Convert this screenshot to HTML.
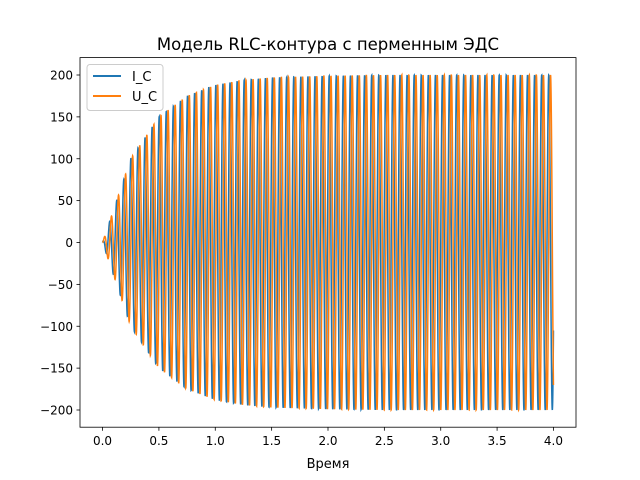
<!DOCTYPE html>
<html><head><meta charset="utf-8"><style>
body{margin:0;background:#fff;}
svg{display:block;font-family:"DejaVu Sans","Liberation Sans",sans-serif;}
</style></head><body>
<svg id="chart" width="640" height="480">
<rect width="640" height="480" fill="#fff"/>
<text x="328" y="50" text-anchor="middle" font-size="16.5">Модель RLC-контура с перменным ЭДС</text>
<g id="plot"></g>
<rect x="80" y="57.6" width="496" height="369.6" fill="none" stroke="#000" stroke-width="0.8"/>
<g id="ticks"></g>
<text x="328" y="468" text-anchor="middle" font-size="13">Время</text>
<g>
<rect x="87" y="64.5" width="76" height="46" rx="3" fill="#fff" fill-opacity="0.8" stroke="#ccc" stroke-width="1"/>
<line x1="93" y1="76" x2="121" y2="76" stroke="#1f77b4" stroke-width="2"/>
<text x="132" y="81" font-size="13">I_C</text>
<line x1="93" y1="96" x2="121" y2="96" stroke="#ff7f0e" stroke-width="2"/>
<text x="132" y="101" font-size="13">U_C</text>
</g>
</svg>
<script>
const xTicks=[0.0,0.5,1.0,1.5,2.0,2.5,3.0,3.5,4.0];
const yTicks=[-200,-150,-100,-50,0,50,100,150,200];
const envelopeTimes=[0,0.25,0.5,0.75,1.0,1.25,1.5,2.0,2.5,3.0,4.0];
const envelopeValues=[0,100,150,175,188,194,197,199,200,200,200];
const omega=[100];
const seriesNames=["I_C","U_C"];
const seriesPhase=[1.5708,0];
const seriesColors=["#1f77b4","#ff7f0e"];
const tEnd=[4.0];

const X=t=>80+(t+0.2)/4.4*496;
const Y=v=>242.5-v*0.8375;
const NS="http://www.w3.org/2000/svg";
function env(t){for(let i=1;i<envelopeTimes.length;i++){if(t<=envelopeTimes[i]){const a=envelopeTimes[i-1],b=envelopeTimes[i];return envelopeValues[i-1]+(envelopeValues[i]-envelopeValues[i-1])*(t-a)/(b-a);}}return envelopeValues[envelopeValues.length-1];}
const plot=document.getElementById('plot');
seriesNames.forEach((n,k)=>{
  let d="";const N=4000;
  for(let i=0;i<=N;i++){const t=tEnd[0]*i/N;const v=env(t)*Math.sin(omega[0]*t+seriesPhase[k]);d+=(i?"L":"M")+X(t).toFixed(2)+","+Y(v).toFixed(2);}
  const p=document.createElementNS(NS,'path');
  p.setAttribute('d',d);p.setAttribute('fill','none');p.setAttribute('stroke',seriesColors[k]);p.setAttribute('stroke-width','1.5');
  
  
  plot.appendChild(p);
});
const tg=document.getElementById('ticks');
xTicks.forEach(t=>{
  const l=document.createElementNS(NS,'line');const x=X(t);
  l.setAttribute('x1',x);l.setAttribute('x2',x);l.setAttribute('y1',427.2);l.setAttribute('y2',430.7);l.setAttribute('stroke','#000');l.setAttribute('stroke-width','0.8');
  
  
  tg.appendChild(l);
  const s=document.createElementNS(NS,'text');s.setAttribute('x',x);s.setAttribute('y',445);s.setAttribute('text-anchor','middle');s.setAttribute('font-size','12');s.textContent=t.toFixed(1);
  
  
  tg.appendChild(s);
});
yTicks.forEach(v=>{
  const l=document.createElementNS(NS,'line');const y=Y(v);
  l.setAttribute('x1',76.5);l.setAttribute('x2',80);l.setAttribute('y1',y);l.setAttribute('y2',y);l.setAttribute('stroke','#000');l.setAttribute('stroke-width','0.8');
  
  
  tg.appendChild(l);
  const s=document.createElementNS(NS,'text');s.setAttribute('x',73);s.setAttribute('y',y+4.5);s.setAttribute('text-anchor','end');s.setAttribute('font-size','12');s.textContent=String(v).replace('-','\u2212');
  
  
  tg.appendChild(s);
});
</script>
</body></html>
